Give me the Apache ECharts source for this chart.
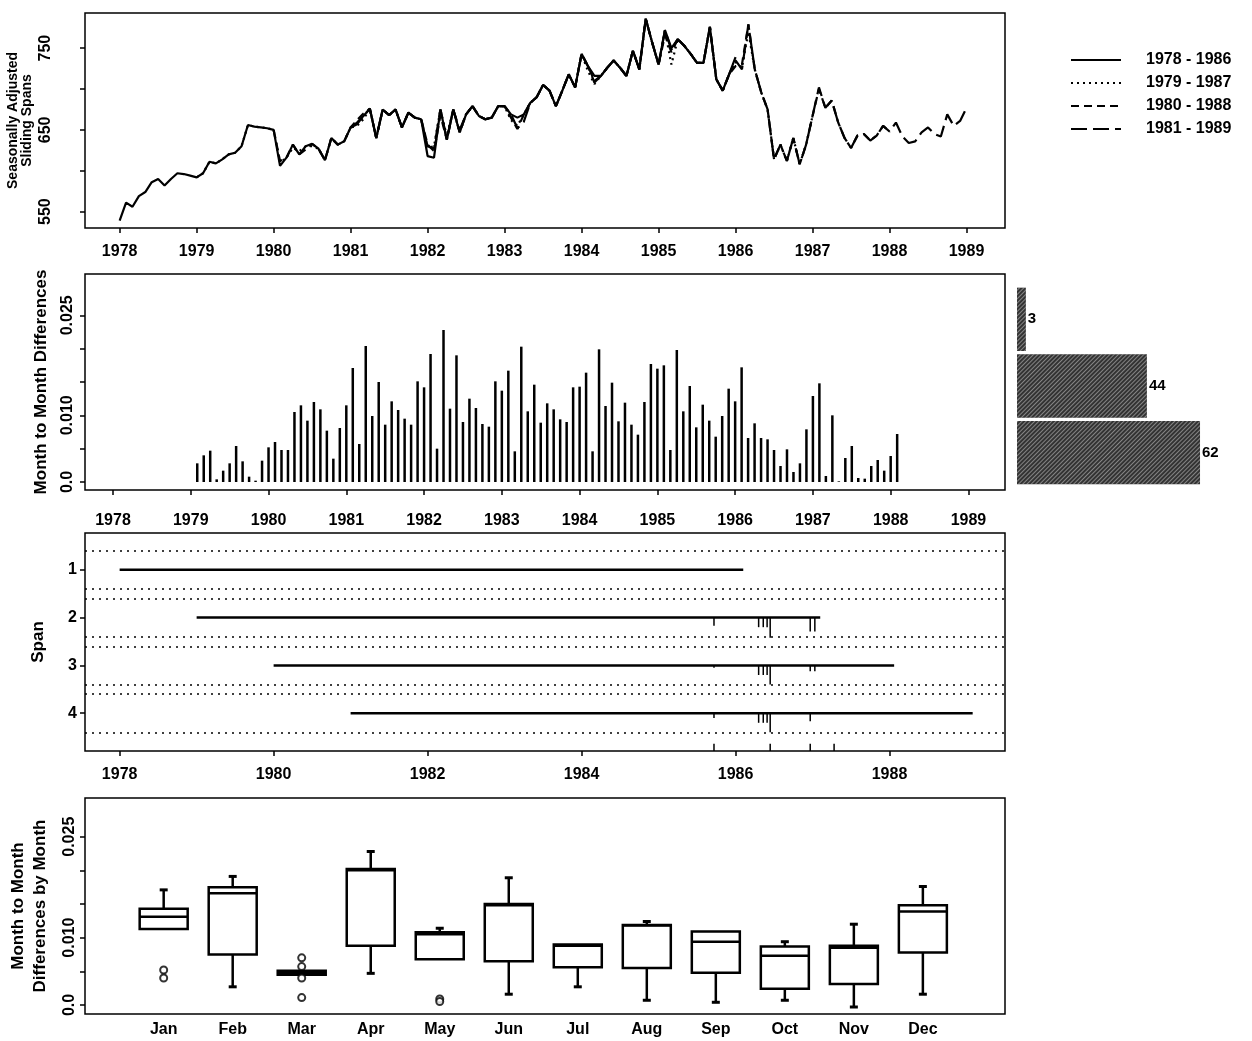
<!DOCTYPE html>
<html><head><meta charset="utf-8">
<script src="https://cdn.jsdelivr.net/npm/echarts@6/dist/echarts.min.js"></script>
<style>html,body{margin:0;padding:0;background:#fff}#c{width:1252px;height:1041px}</style>
</head><body><div id="c"></div><script>
// ---------- DATA ----------
const spanNames = ['1978 - 1986', '1979 - 1987', '1980 - 1988', '1981 - 1989'];
const spanStartYears = [1978, 1979, 1980, 1981];
const spanEndYears = [1986.1, 1987.1, 1988.06, 1989.08];
// seasonally adjusted values, monthly from January of the start year
const span1 = [539,561,556,569,574,586,590,582,590,597,596,594,
 592,597,611,609,614,620,622,630,656,654,653,652,
 650,606,616,632,620,630,633,627,613,640,632,636,
 653,659,667,676,640,675,668,675,653,671,665,663,
 618,616,675,638,675,647,669,679,667,663,665,679,
 679,669,665,669,683,690,705,698,679,698,718,702,
 743,728,716,716,726,735,726,716,747,724,786,757,
 730,772,750,761,753,743,732,732,776,712,698,718,
 739];
const span2 = [592,597,611,609,614,620,622,630,656,654,653,652,
 650,610,616,628,624,630,630,627,613,640,632,636,
 653,655,663,676,640,675,668,675,653,671,665,663,
 628,630,675,642,675,647,669,679,667,663,665,679,
 679,662,655,669,683,690,705,698,679,698,718,702,
 743,722,706,716,726,735,726,716,747,724,786,757,
 730,772,730,761,753,743,732,732,776,712,698,718,
 733,726,770,724,696,675,614,632,612,640,608,632,
 667];
const span3 = [650,612,616,632,620,626,633,627,613,640,632,636,
 653,662,670,676,640,675,668,675,653,671,665,663,
 632,624,668,638,675,647,669,679,667,663,665,679,
 679,665,651,669,683,690,705,698,679,698,718,702,
 743,728,710,716,726,735,726,716,747,724,786,757,
 730,766,745,761,753,743,732,732,776,712,698,718,
 728,730,779,724,696,675,614,632,612,640,608,632,
 667,700,677,686,659,640,628,643,645,637,643,655,
 648];
const span4 = [653,657,667,676,640,675,668,675,653,671,665,663,
 630,627,675,638,675,650,669,679,667,663,665,679,
 679,669,652,660,683,690,705,698,679,698,718,702,
 743,728,708,716,726,735,726,716,747,724,786,757,
 730,772,748,761,753,743,732,732,776,712,698,718,
 735,724,779,724,696,675,614,632,612,640,608,632,
 667,702,677,686,659,640,628,643,645,637,643,655,
 648,659,642,634,636,647,653,645,642,669,655,661,
 677];
// month-to-month differences, monthly from Feb 1979 to Feb 1988
const monthDiffs = [
 0.0028,0.0040,0.0047,0.0004,0.0017,0.0028,0.0054,0.0031,0.0008,0.0002,0.0032,0.0052,
 0.0060,0.0048,0.0048,0.0105,0.0115,0.0092,0.0120,0.0109,0.0077,0.0035,0.0081,0.0115,
 0.0171,0.0057,0.0204,0.0099,0.0150,0.0086,0.0121,0.0108,0.0095,0.0086,0.0151,0.0142,
 0.0192,0.0050,0.0228,0.0110,0.0190,0.0090,0.0125,0.0111,0.0087,0.0083,0.0151,0.0137,
 0.0167,0.0046,0.0203,0.0106,0.0146,0.0089,0.0118,0.0109,0.0094,0.0090,0.0142,0.0143,
 0.0164,0.0046,0.0199,0.0114,0.0149,0.0091,0.0119,0.0086,0.0071,0.0120,0.0177,0.0170,
 0.0175,0.0048,0.0198,0.0106,0.0144,0.0082,0.0116,0.0092,0.0068,0.0099,0.0140,0.0121,
 0.0172,0.0066,0.0088,0.0066,0.0064,0.0048,0.0024,0.0049,0.0015,0.0028,0.0079,0.0129,
 0.0148,0.0009,0.0100,0.0001,0.0036,0.0054,0.0006,0.0005,0.0024,0.0033,0.0017,0.0039,
 0.0072];
const diffStartYear = 1979 + 1/12;
// histogram of the differences (bottom to top)
const histBins = ['0.00-0.01', '0.01-0.02', '0.02-0.03'];
const histCounts = [62, 44, 3];
// span panel
const spanGuides = [0.6, 1.4, 1.6, 2.4, 2.6, 3.4, 3.6, 4.4];
const spikeYears = [1985.72, 1986.30, 1986.36, 1986.41, 1986.45, 1986.97, 1987.03];
const span2Spikes = [0.17, 0.20, 0.20, 0.20, 0.42, 0.29, 0.29];
const span3Spikes = [0.05, 0.20, 0.20, 0.20, 0.40, 0.12, 0.12];
const span4Spikes = [0.10, 0.20, 0.20, 0.20, 0.40, 0.17, 0.00];
const rugYears = [1985.72, 1986.45, 1986.97, 1987.28];
// boxplots by month: [low, q1, median, q3, high]
const monthNames = ['Jan','Feb','Mar','Apr','May','Jun','Jul','Aug','Sep','Oct','Nov','Dec'];
const boxStats = [
 [0.0113, 0.0113, 0.0131, 0.0143, 0.0171],
 [0.0027, 0.0075, 0.0166, 0.0175, 0.0191],
 [0.0045, 0.0045, 0.0048, 0.0051, 0.0051],
 [0.0047, 0.0088, 0.0200, 0.0202, 0.0228],
 [0.0068, 0.0068, 0.0105, 0.0108, 0.0114],
 [0.0016, 0.0065, 0.0148, 0.0150, 0.0189],
 [0.0027, 0.0056, 0.0088, 0.0090, 0.0091],
 [0.0007, 0.0055, 0.0118, 0.0119, 0.0124],
 [0.0004, 0.0048, 0.0094, 0.0109, 0.0110],
 [0.0007, 0.0024, 0.0073, 0.0087, 0.0094],
 [-0.0003, 0.0031, 0.0085, 0.0088, 0.0120],
 [0.0016, 0.0078, 0.0139, 0.0148, 0.0176]];
const boxOutliers = [[1, 0.0052], [1, 0.0040], [3, 0.0070], [3, 0.0057], [3, 0.0040], [3, 0.0011], [5, 0.0009], [5, 0.0005]];
// axis ticks
const yearTicks = [1978,1979,1980,1981,1982,1983,1984,1985,1986,1987,1988,1989];
const evenYearTicks = [1978,1980,1982,1984,1986,1988];
const levelTicks = [550,600,650,700,750];
const levelLabels = [550,650,750];
const diffTicks = [0,0.005,0.01,0.015,0.02,0.025];
const diffLabels = [0,0.01,0.025];
const spanTicks = [1,2,3,4];
const monthTicks = [1,2,3,4,5,6,7,8,9,10,11,12];

// ---------- CHART ----------
const FONT = '"Liberation Sans", Arial, Helvetica, sans-serif';
const txt = (size) => ({fontFamily: FONT, fontWeight: 'bold', fontSize: size, color: '#000'});
const tick = (vals) => ({show: true, length: 5, customValues: vals, lineStyle: {color: '#000', width: 1.5}});
const gridBox = {show: true, borderColor: '#000', borderWidth: 1.5, backgroundColor: 'transparent', containLabel: false, outerBoundsMode: 'none'};
const diffFmt = v => (Math.abs(v) < 1e-9 ? '0.0' : v.toFixed(3));
const noDecal = {symbol: 'rect', color: 'rgba(0,0,0,0)'};
const noLine = {show: false, onZero: false};

const spans = [span1, span2, span3, span4];
const lineTypes = ['solid', [2, 4], [8, 5], [16, 6]];
const lineSeries = spans.map((vals, k) => ({
  name: spanNames[k], type: 'line', xAxisIndex: 0, yAxisIndex: 0,
  symbol: 'none', z: 10 - k,
  data: vals.map((v, i) => [spanStartYears[k] + i / 12, v]),
  lineStyle: {color: '#000', width: 2.2, type: lineTypes[k]},
  itemStyle: {color: '#000', decal: noDecal}
}));

const spanLineSeries = spans.map((vals, k) => ({
  type: 'line', xAxisIndex: 3, yAxisIndex: 3, symbol: 'none', silent: true,
  data: [[spanStartYears[k], k + 1], [spanEndYears[k], k + 1]],
  lineStyle: {color: '#000', width: 2.5},
  itemStyle: {color: '#000', decal: noDecal},
  markLine: k === 0 ? {
    silent: true, symbol: 'none', label: {show: false},
    lineStyle: {color: '#000', width: 1.5, type: [2, 5]},
    data: spanGuides.map(g => ({yAxis: g}))
  } : undefined
}));

const spikeData = [];
[span2Spikes, span3Spikes, span4Spikes].forEach((arr, j) => {
  arr.forEach((len, i) => { if (len > 0) spikeData.push([spikeYears[i], j + 2, len]); });
});
rugYears.forEach(y => spikeData.push([y, 4.79, -0.15]));

const option = {
  animation: false,
  backgroundColor: '#fff',
  aria: {enabled: true, decal: {show: true}},
  legend: {
    data: spanNames, orient: 'vertical', left: 1065, top: 47,
    itemWidth: 50, itemHeight: 12, itemGap: 7, selectedMode: false,
    itemStyle: {opacity: 0},
    textStyle: Object.assign(txt(16), {padding: [0, 0, 0, 20]})
  },
  grid: [
    Object.assign({left: 85, top: 13, width: 920, height: 215}, gridBox),
    Object.assign({left: 85, top: 274, width: 920, height: 216}, gridBox),
    {left: 1017, top: 286, width: 200, height: 200, show: false, containLabel: false, outerBoundsMode: 'none'},
    Object.assign({left: 85, top: 533, width: 920, height: 218}, gridBox),
    Object.assign({left: 85, top: 798, width: 920, height: 216}, gridBox)
  ],
  xAxis: [
    {gridIndex: 0, type: 'value', min: 1977.55, max: 1989.5, axisLine: noLine, splitLine: {show: false},
     axisTick: tick(yearTicks), axisLabel: Object.assign(txt(16), {customValues: yearTicks, margin: 16, formatter: v => String(Math.round(v))})},
    {gridIndex: 1, type: 'value', min: 1977.64, max: 1989.47, axisLine: noLine, splitLine: {show: false},
     axisTick: tick(yearTicks), axisLabel: Object.assign(txt(16), {customValues: yearTicks, margin: 23, formatter: v => String(Math.round(v))})},
    {gridIndex: 2, type: 'value', min: 0, max: 67.75, show: false},
    {gridIndex: 3, type: 'value', min: 1977.55, max: 1989.5, axisLine: noLine, splitLine: {show: false},
     axisTick: tick(evenYearTicks), axisLabel: Object.assign(txt(16), {customValues: evenYearTicks, margin: 16, formatter: v => String(Math.round(v))})},
    {gridIndex: 4, type: 'value', min: -0.14, max: 13.19, axisLine: noLine, splitLine: {show: false},
     axisTick: {show: false}, axisLabel: Object.assign(txt(16), {customValues: monthTicks, margin: 8, formatter: v => monthNames[Math.round(v) - 1]})}
  ],
  yAxis: [
    {gridIndex: 0, type: 'value', min: 530, max: 793, axisLine: noLine, splitLine: {show: false},
     axisTick: tick(levelTicks), axisLabel: Object.assign(txt(16), {customValues: levelLabels, rotate: 90, margin: 31}),
     name: 'Seasonally Adjusted\nSliding Spans', nameLocation: 'middle', nameRotate: 90, nameGap: 51, nameMoveOverlap: false,
     nameTextStyle: Object.assign(txt(14), {lineHeight: 14})},
    {gridIndex: 1, type: 'value', min: -0.0012, max: 0.0312, axisLine: noLine, splitLine: {show: false},
     axisTick: tick(diffTicks), axisLabel: Object.assign(txt(16), {customValues: diffLabels, rotate: 90, margin: 9, formatter: diffFmt}),
     name: 'Month to Month Differences', nameLocation: 'middle', nameRotate: 90, nameGap: 35, nameMoveOverlap: false,
     nameTextStyle: txt(17)},
    {gridIndex: 2, type: 'category', data: histBins, show: false},
    {gridIndex: 3, type: 'value', inverse: true, min: 0.23, max: 4.79, axisLine: noLine, splitLine: {show: false},
     axisTick: tick(spanTicks), axisLabel: Object.assign(txt(16), {customValues: spanTicks, margin: 8}),
     name: 'Span', nameLocation: 'middle', nameRotate: 90, nameGap: 38, nameMoveOverlap: false, nameTextStyle: txt(17)},
    {gridIndex: 4, type: 'value', min: -0.00134, max: 0.03075, axisLine: noLine, splitLine: {show: false},
     axisTick: tick(diffTicks), axisLabel: Object.assign(txt(16), {customValues: diffLabels, rotate: 90, margin: 7, formatter: diffFmt}),
     name: 'Month to Month\nDifferences by Month', nameLocation: 'middle', nameRotate: 90, nameGap: 34, nameMoveOverlap: false,
     nameTextStyle: Object.assign(txt(17), {lineHeight: 22})}
  ],
  series: [
    ...lineSeries,
    {type: 'bar', xAxisIndex: 1, yAxisIndex: 1, barWidth: 2.5, silent: true,
     data: monthDiffs.map((v, i) => [diffStartYear + i / 12, v]),
     itemStyle: {color: '#000', decal: noDecal}},
    {type: 'bar', xAxisIndex: 2, yAxisIndex: 2, barCategoryGap: '5%', silent: true,
     data: histCounts,
     itemStyle: {color: '#333', decal: {symbol: 'rect', symbolSize: 1, color: 'rgba(255,255,255,0.4)',
       dashArrayX: [[1, 0]], dashArrayY: [1, 2], rotation: -Math.PI / 4}},
     label: Object.assign(txt(15), {show: true, position: 'right', distance: 2})},
    ...spanLineSeries,
    {type: 'custom', xAxisIndex: 3, yAxisIndex: 3, silent: true, encode: {x: 0, y: 1},
     data: spikeData, itemStyle: {decal: noDecal},
     renderItem: (params, api) => {
       const p0 = api.coord([api.value(0), api.value(1)]);
       const p1 = api.coord([api.value(0), api.value(1) + api.value(2)]);
       return {type: 'line', shape: {x1: p0[0], y1: p0[1], x2: p1[0], y2: p1[1]}, style: {stroke: '#000', lineWidth: 1.5}};
     }},
    {type: 'custom', xAxisIndex: 4, yAxisIndex: 4, silent: true, encode: {x: 0, y: [1, 2, 3, 4, 5]},
     data: boxStats.map((s, i) => [i + 1].concat(s)), itemStyle: {decal: noDecal},
     renderItem: (params, api) => {
       const x = api.value(0);
       const c = k => api.coord([x, api.value(k)]);
       const lo = c(1), q1 = c(2), md = c(3), q3 = c(4), hi = c(5);
       const cx = lo[0], w = 48;
       const ls = {stroke: '#000', lineWidth: 2.5};
       const ch = [
         {type: 'rect', shape: {x: cx - w / 2, y: q3[1], width: w, height: Math.max(q1[1] - q3[1], 1)}, style: {stroke: '#000', lineWidth: 2.5, fill: '#fff'}},
         {type: 'line', shape: {x1: cx - w / 2, y1: md[1], x2: cx + w / 2, y2: md[1]}, style: ls}
       ];
       if (hi[1] < q3[1] - 1) {
         ch.push({type: 'line', shape: {x1: cx, y1: q3[1], x2: cx, y2: hi[1]}, style: ls});
         ch.push({type: 'line', shape: {x1: cx - 4, y1: hi[1], x2: cx + 4, y2: hi[1]}, style: {stroke: '#000', lineWidth: 3}});
       }
       if (lo[1] > q1[1] + 1) {
         ch.push({type: 'line', shape: {x1: cx, y1: q1[1], x2: cx, y2: lo[1]}, style: ls});
         ch.push({type: 'line', shape: {x1: cx - 4, y1: lo[1], x2: cx + 4, y2: lo[1]}, style: {stroke: '#000', lineWidth: 3}});
       }
       return {type: 'group', children: ch};
     }},
    {type: 'scatter', xAxisIndex: 4, yAxisIndex: 4, silent: true, symbol: 'emptyCircle', symbolSize: 7,
     data: boxOutliers, itemStyle: {color: '#000', borderColor: '#000', borderWidth: 1.5, decal: noDecal}}
  ]
};
const chart = echarts.init(document.getElementById('c'));
chart.setOption(option);
</script></body></html>
